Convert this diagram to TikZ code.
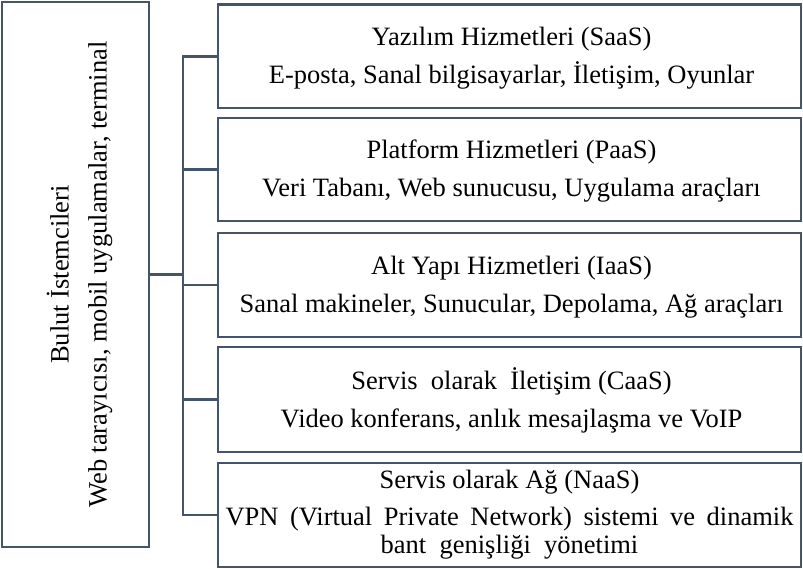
\documentclass[tikz,border=0pt]{standalone}
\usepackage{fontspec}
\setmainfont{Liberation Serif}
\definecolor{linec}{HTML}{44546A}
\tikzset{
  box/.style={draw=linec, line width=2.8pt, rectangle, inner sep=0pt,
    minimum width=583pt},
  conn/.style={draw=linec, line width=2.8pt},
  linetext/.style={anchor=base, inner sep=0pt, font=\fontsize{26.5}{30}\selectfont}
}
\begin{document}
\begin{tikzpicture}[x=1pt,y=-1pt]
\useasboundingbox (0,0) rectangle (803,569);
% left client box
\node[draw=linec, line width=2.8pt, rectangle, inner sep=0pt,
      minimum width=147pt, minimum height=545pt] (client) at (75.5,274.5) {};
\node[rotate=90, inner sep=0pt, align=center,
      font=\fontsize{26.5}{38}\selectfont] (clienttext) at (79.5,274.5)
  {Bulut İstemcileri\\Web tarayıcısı, mobil uygulamalar, terminal};
% service boxes
\node[box, minimum height=103.5pt] (b1) at (509.5,56.3) {};
\node[box, minimum height=103pt] (b2) at (509.5,169.5) {};
\node[box, minimum height=104pt] (b3) at (509.5,285) {};
\node[box, minimum height=105pt] (b4) at (509.5,399.5) {};
\node[box, minimum height=104pt] (b5) at (509.5,515) {};
% box texts
\node[linetext] (b1a) at ([xshift=2pt,yshift=10.5pt]b1.center) {Yazılım Hizmetleri (SaaS)};
\node[linetext] (b1b) at ([xshift=2pt,yshift=-27.5pt]b1.center) {E-posta, Sanal bilgisayarlar, İletişim, Oyunlar};
\node[linetext] (b2a) at ([xshift=2pt,yshift=10.5pt]b2.center) {Platform Hizmetleri (PaaS)};
\node[linetext] (b2b) at ([xshift=2pt,yshift=-27.5pt]b2.center) {Veri Tabanı, Web sunucusu, Uygulama araçları};
\node[linetext] (b3a) at ([xshift=2pt,yshift=10.5pt]b3.center) {Alt Yapı Hizmetleri (IaaS)};
\node[linetext] (b3b) at ([xshift=2pt,yshift=-27.5pt]b3.center) {Sanal makineler, Sunucular, Depolama, Ağ araçları};
\node[linetext] (b4a) at ([xshift=2pt,yshift=10.5pt]b4.center) {Servis\ \ olarak\ \ İletişim (CaaS)};
\node[linetext] (b4b) at ([xshift=2pt,yshift=-27.5pt]b4.center) {Video konferans, anlık mesajlaşma ve VoIP};
\node[linetext] (b5a) at (509.5,488) {Servis olarak Ağ (NaaS)};
\node[linetext] (b5b) at (509.5,525.5) {\makebox[568pt][s]{VPN (Virtual Private Network) sistemi ve dinamik}};
\node[linetext] (b5c) at (509.5,553) {bant\ \ genişliği\ \ yönetimi};
% connectors
\coordinate (hub) at (183,274.5);
\draw[conn] (client.east) -- (hub);
\draw[conn] (b1.west) -- (hub |- b1.west) -- (hub |- b5.west) -- (b5.west);
\draw[conn] (hub |- b2.west) -- (b2.west);
\draw[conn] (hub |- b3.west) -- (b3.west);
\draw[conn] (hub |- b4.west) -- (b4.west);
\end{tikzpicture}
\end{document}
